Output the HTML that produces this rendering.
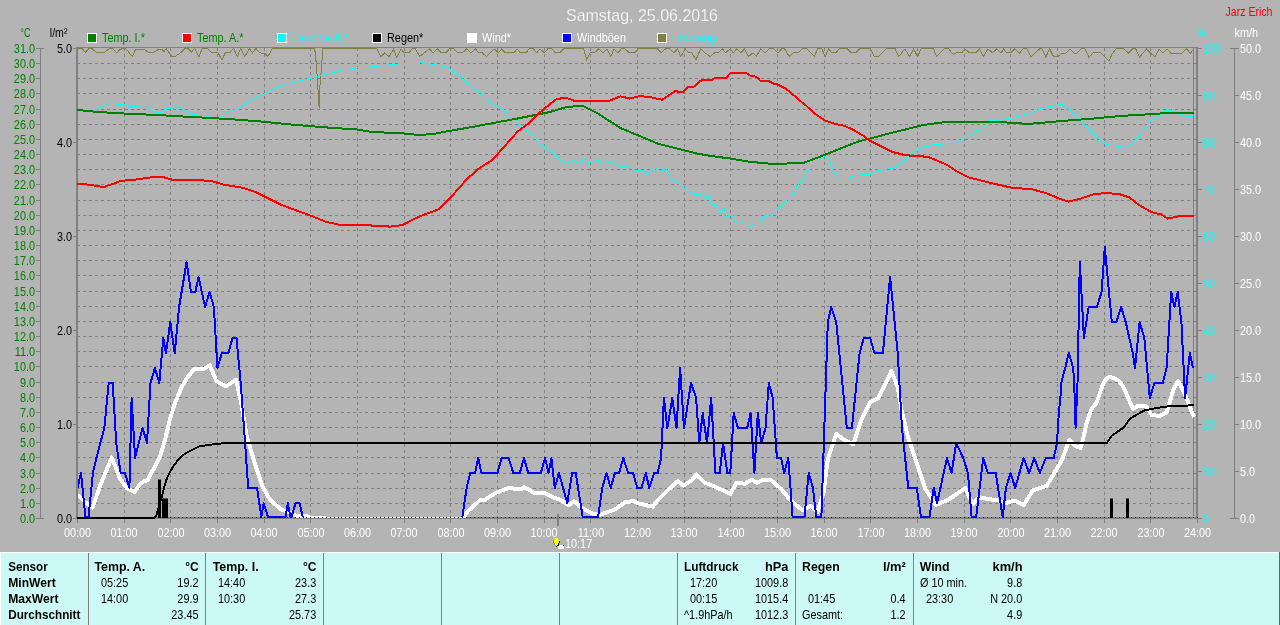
<!DOCTYPE html>
<html><head><meta charset="utf-8"><title>Samstag, 25.06.2016</title>
<style>
html,body{margin:0;padding:0;background:#b4b4b4;width:1280px;height:625px;overflow:hidden}
svg{display:block}
text{font-family:"Liberation Sans", Arial, sans-serif}
</style></head><body>
<svg width="1280" height="625" viewBox="0 0 1280 625">
<defs><clipPath id="pc"><rect x="78" y="48" width="1118" height="470"/></clipPath></defs>
<rect x="0" y="0" width="1280" height="625" fill="#b4b4b4"/>

<text x="566" y="21" font-size="17" textLength="152" lengthAdjust="spacingAndGlyphs" fill="#ffffff" stroke="#b4b4b4" stroke-width="0.25">Samstag, 25.06.2016</text>
<text x="1225.5" y="16" font-size="12" textLength="47" lengthAdjust="spacingAndGlyphs" fill="#ff0000">Jarz Erich</text>
<rect x="87" y="33" width="10" height="10" fill="#ffffff"/><rect x="88" y="34" width="8" height="8" fill="#008000"/>
<text transform="translate(102,42) scale(0.87,1)" font-size="12.5" fill="#008000">Temp. I.*</text>
<rect x="182" y="33" width="10" height="10" fill="#ffffff"/><rect x="183" y="34" width="8" height="8" fill="#ff0000"/>
<text transform="translate(197,42) scale(0.87,1)" font-size="12.5" fill="#008000">Temp. A.*</text>
<rect x="277" y="33" width="10" height="10" fill="#ffffff"/><rect x="278" y="34" width="8" height="8" fill="#00ffff"/>
<text transform="translate(292,42) scale(0.87,1)" font-size="12.5" fill="#00ffff">Feuchte A.*</text>
<rect x="372" y="33" width="10" height="10" fill="#ffffff"/><rect x="373" y="34" width="8" height="8" fill="#000000"/>
<text transform="translate(387,42) scale(0.87,1)" font-size="12.5" fill="#000000">Regen*</text>
<rect x="467" y="33" width="10" height="10" fill="#ffffff"/><rect x="468" y="34" width="8" height="8" fill="#ffffff"/>
<text transform="translate(482,42) scale(0.87,1)" font-size="12.5" fill="#ffffff">Wind*</text>
<rect x="562" y="33" width="10" height="10" fill="#ffffff"/><rect x="563" y="34" width="8" height="8" fill="#0000ff"/>
<text transform="translate(577,42) scale(0.87,1)" font-size="12.5" fill="#ffffff">Windböen</text>
<rect x="657" y="33" width="10" height="10" fill="#ffffff"/><rect x="658" y="34" width="8" height="8" fill="#808040"/>
<text transform="translate(672,42) scale(0.87,1)" font-size="12.5" fill="#00ffff">Empfang</text>
<text x="20.3" y="37" font-size="12.5" textLength="10.3" lengthAdjust="spacingAndGlyphs" fill="#008000">°C</text>
<text x="49.8" y="37" font-size="12.5" textLength="17.6" lengthAdjust="spacingAndGlyphs" fill="#000000">l/m²</text>
<text x="1197.3" y="37" font-size="12.5" textLength="8" lengthAdjust="spacingAndGlyphs" fill="#00ffff">%</text>
<text transform="translate(1234.5,37) scale(0.87,1)" font-size="12.5" fill="#ffffff">km/h</text>
<path d="M77,63.5H1196 M77,78.5H1196 M77,93.5H1196 M77,109.5H1196 M77,124.5H1196 M77,139.5H1196 M77,154.5H1196 M77,169.5H1196 M77,184.5H1196 M77,200.5H1196 M77,215.5H1196 M77,230.5H1196 M77,245.5H1196 M77,260.5H1196 M77,275.5H1196 M77,291.5H1196 M77,306.5H1196 M77,321.5H1196 M77,336.5H1196 M77,351.5H1196 M77,366.5H1196 M77,382.5H1196 M77,397.5H1196 M77,412.5H1196 M77,427.5H1196 M77,442.5H1196 M77,457.5H1196 M77,473.5H1196 M77,488.5H1196 M77,503.5H1196 M124.5,48V517 M170.5,48V517 M217.5,48V517 M264.5,48V517 M310.5,48V517 M357.5,48V517 M404.5,48V517 M450.5,48V517 M497.5,48V517 M544.5,48V517 M590.5,48V517 M637.5,48V517 M684.5,48V517 M730.5,48V517 M777.5,48V517 M824.5,48V517 M870.5,48V517 M917.5,48V517 M964.5,48V517 M1010.5,48V517 M1057.5,48V517 M1104.5,48V517 M1150.5,48V517" stroke="#808080" stroke-width="1" stroke-dasharray="3 3" fill="none" shape-rendering="crispEdges"/>
<path d="M40.5,48V518 M40,48.5H44 M40,518.5H44 M36,48.5H40 M36,63.5H40 M36,78.5H40 M36,93.5H40 M36,109.5H40 M36,124.5H40 M36,139.5H40 M36,154.5H40 M36,169.5H40 M36,184.5H40 M36,200.5H40 M36,215.5H40 M36,230.5H40 M36,245.5H40 M36,260.5H40 M36,275.5H40 M36,291.5H40 M36,306.5H40 M36,321.5H40 M36,336.5H40 M36,351.5H40 M36,366.5H40 M36,382.5H40 M36,397.5H40 M36,412.5H40 M36,427.5H40 M36,442.5H40 M36,457.5H40 M36,473.5H40 M36,488.5H40 M36,503.5H40 M36,518.5H40" stroke="#808080" stroke-width="1" fill="none" shape-rendering="crispEdges"/>
<text transform="translate(35,53) scale(0.87,1)" text-anchor="end" font-size="12.5" fill="#008000">31.0</text>
<text transform="translate(35,68) scale(0.87,1)" text-anchor="end" font-size="12.5" fill="#008000">30.0</text>
<text transform="translate(35,83) scale(0.87,1)" text-anchor="end" font-size="12.5" fill="#008000">29.0</text>
<text transform="translate(35,98) scale(0.87,1)" text-anchor="end" font-size="12.5" fill="#008000">28.0</text>
<text transform="translate(35,114) scale(0.87,1)" text-anchor="end" font-size="12.5" fill="#008000">27.0</text>
<text transform="translate(35,129) scale(0.87,1)" text-anchor="end" font-size="12.5" fill="#008000">26.0</text>
<text transform="translate(35,144) scale(0.87,1)" text-anchor="end" font-size="12.5" fill="#008000">25.0</text>
<text transform="translate(35,159) scale(0.87,1)" text-anchor="end" font-size="12.5" fill="#008000">24.0</text>
<text transform="translate(35,174) scale(0.87,1)" text-anchor="end" font-size="12.5" fill="#008000">23.0</text>
<text transform="translate(35,189) scale(0.87,1)" text-anchor="end" font-size="12.5" fill="#008000">22.0</text>
<text transform="translate(35,205) scale(0.87,1)" text-anchor="end" font-size="12.5" fill="#008000">21.0</text>
<text transform="translate(35,220) scale(0.87,1)" text-anchor="end" font-size="12.5" fill="#008000">20.0</text>
<text transform="translate(35,235) scale(0.87,1)" text-anchor="end" font-size="12.5" fill="#008000">19.0</text>
<text transform="translate(35,250) scale(0.87,1)" text-anchor="end" font-size="12.5" fill="#008000">18.0</text>
<text transform="translate(35,265) scale(0.87,1)" text-anchor="end" font-size="12.5" fill="#008000">17.0</text>
<text transform="translate(35,280) scale(0.87,1)" text-anchor="end" font-size="12.5" fill="#008000">16.0</text>
<text transform="translate(35,296) scale(0.87,1)" text-anchor="end" font-size="12.5" fill="#008000">15.0</text>
<text transform="translate(35,311) scale(0.87,1)" text-anchor="end" font-size="12.5" fill="#008000">14.0</text>
<text transform="translate(35,326) scale(0.87,1)" text-anchor="end" font-size="12.5" fill="#008000">13.0</text>
<text transform="translate(35,341) scale(0.87,1)" text-anchor="end" font-size="12.5" fill="#008000">12.0</text>
<text transform="translate(35,356) scale(0.87,1)" text-anchor="end" font-size="12.5" fill="#008000">11.0</text>
<text transform="translate(35,371) scale(0.87,1)" text-anchor="end" font-size="12.5" fill="#008000">10.0</text>
<text transform="translate(35,387) scale(0.87,1)" text-anchor="end" font-size="12.5" fill="#008000">9.0</text>
<text transform="translate(35,402) scale(0.87,1)" text-anchor="end" font-size="12.5" fill="#008000">8.0</text>
<text transform="translate(35,417) scale(0.87,1)" text-anchor="end" font-size="12.5" fill="#008000">7.0</text>
<text transform="translate(35,432) scale(0.87,1)" text-anchor="end" font-size="12.5" fill="#008000">6.0</text>
<text transform="translate(35,447) scale(0.87,1)" text-anchor="end" font-size="12.5" fill="#008000">5.0</text>
<text transform="translate(35,462) scale(0.87,1)" text-anchor="end" font-size="12.5" fill="#008000">4.0</text>
<text transform="translate(35,478) scale(0.87,1)" text-anchor="end" font-size="12.5" fill="#008000">3.0</text>
<text transform="translate(35,493) scale(0.87,1)" text-anchor="end" font-size="12.5" fill="#008000">2.0</text>
<text transform="translate(35,508) scale(0.87,1)" text-anchor="end" font-size="12.5" fill="#008000">1.0</text>
<text transform="translate(35,523) scale(0.87,1)" text-anchor="end" font-size="12.5" fill="#008000">0.0</text>
<text transform="translate(72,53) scale(0.87,1)" text-anchor="end" font-size="12.5" fill="#000000">5.0</text>
<text transform="translate(72,147) scale(0.87,1)" text-anchor="end" font-size="12.5" fill="#000000">4.0</text>
<text transform="translate(72,241) scale(0.87,1)" text-anchor="end" font-size="12.5" fill="#000000">3.0</text>
<text transform="translate(72,335) scale(0.87,1)" text-anchor="end" font-size="12.5" fill="#000000">2.0</text>
<text transform="translate(72,429) scale(0.87,1)" text-anchor="end" font-size="12.5" fill="#000000">1.0</text>
<text transform="translate(72,523) scale(0.87,1)" text-anchor="end" font-size="12.5" fill="#000000">0.0</text>
<path d="M73,48.5H76 M73,142.5H76 M73,236.5H76 M73,330.5H76 M73,424.5H76 M73,518.5H76" stroke="#808080" stroke-width="1" fill="none" shape-rendering="crispEdges"/>
<text transform="translate(1203,53) scale(0.87,1)" font-size="12.5" fill="#00ffff">100</text>
<text transform="translate(1240,53) scale(0.87,1)" font-size="12.5" fill="#ffffff">50.0</text>
<text transform="translate(1203,100) scale(0.87,1)" font-size="12.5" fill="#00ffff">90</text>
<text transform="translate(1240,100) scale(0.87,1)" font-size="12.5" fill="#ffffff">45.0</text>
<text transform="translate(1203,147) scale(0.87,1)" font-size="12.5" fill="#00ffff">80</text>
<text transform="translate(1240,147) scale(0.87,1)" font-size="12.5" fill="#ffffff">40.0</text>
<text transform="translate(1203,194) scale(0.87,1)" font-size="12.5" fill="#00ffff">70</text>
<text transform="translate(1240,194) scale(0.87,1)" font-size="12.5" fill="#ffffff">35.0</text>
<text transform="translate(1203,241) scale(0.87,1)" font-size="12.5" fill="#00ffff">60</text>
<text transform="translate(1240,241) scale(0.87,1)" font-size="12.5" fill="#ffffff">30.0</text>
<text transform="translate(1203,288) scale(0.87,1)" font-size="12.5" fill="#00ffff">50</text>
<text transform="translate(1240,288) scale(0.87,1)" font-size="12.5" fill="#ffffff">25.0</text>
<text transform="translate(1203,335) scale(0.87,1)" font-size="12.5" fill="#00ffff">40</text>
<text transform="translate(1240,335) scale(0.87,1)" font-size="12.5" fill="#ffffff">20.0</text>
<text transform="translate(1203,382) scale(0.87,1)" font-size="12.5" fill="#00ffff">30</text>
<text transform="translate(1240,382) scale(0.87,1)" font-size="12.5" fill="#ffffff">15.0</text>
<text transform="translate(1203,429) scale(0.87,1)" font-size="12.5" fill="#00ffff">20</text>
<text transform="translate(1240,429) scale(0.87,1)" font-size="12.5" fill="#ffffff">10.0</text>
<text transform="translate(1203,476) scale(0.87,1)" font-size="12.5" fill="#00ffff">10</text>
<text transform="translate(1240,476) scale(0.87,1)" font-size="12.5" fill="#ffffff">5.0</text>
<text transform="translate(1203,523) scale(0.87,1)" font-size="12.5" fill="#00ffff">0</text>
<text transform="translate(1240,523) scale(0.87,1)" font-size="12.5" fill="#ffffff">0.0</text>
<path d="M1234.5,48V518 M1230,48.5H1235 M1230,518.5H1235 M1193.5,48V518 M1198,48.5H1202 M1235,48.5H1239 M1198,95.5H1202 M1235,95.5H1239 M1198,142.5H1202 M1235,142.5H1239 M1198,189.5H1202 M1235,189.5H1239 M1198,236.5H1202 M1235,236.5H1239 M1198,283.5H1202 M1235,283.5H1239 M1198,330.5H1202 M1235,330.5H1239 M1198,377.5H1202 M1235,377.5H1239 M1198,424.5H1202 M1235,424.5H1239 M1198,471.5H1202 M1235,471.5H1239 M1198,518.5H1202 M1235,518.5H1239" stroke="#808080" stroke-width="1" fill="none" shape-rendering="crispEdges"/>
<rect x="76" y="47" width="1122" height="1" fill="#808080"/>
<rect x="76" y="47" width="2" height="472" fill="#808080"/>
<rect x="1196" y="47" width="2" height="472" fill="#808080"/>
<rect x="76" y="517" width="1122" height="2" fill="#808080"/>
<text transform="translate(77.5,537) scale(0.87,1)" text-anchor="middle" font-size="12.5" fill="#ffffff">00:00</text>
<text transform="translate(124.0,537) scale(0.87,1)" text-anchor="middle" font-size="12.5" fill="#ffffff">01:00</text>
<text transform="translate(171.0,537) scale(0.87,1)" text-anchor="middle" font-size="12.5" fill="#ffffff">02:00</text>
<text transform="translate(217.5,537) scale(0.87,1)" text-anchor="middle" font-size="12.5" fill="#ffffff">03:00</text>
<text transform="translate(264.0,537) scale(0.87,1)" text-anchor="middle" font-size="12.5" fill="#ffffff">04:00</text>
<text transform="translate(311.0,537) scale(0.87,1)" text-anchor="middle" font-size="12.5" fill="#ffffff">05:00</text>
<text transform="translate(357.5,537) scale(0.87,1)" text-anchor="middle" font-size="12.5" fill="#ffffff">06:00</text>
<text transform="translate(404.0,537) scale(0.87,1)" text-anchor="middle" font-size="12.5" fill="#ffffff">07:00</text>
<text transform="translate(451.0,537) scale(0.87,1)" text-anchor="middle" font-size="12.5" fill="#ffffff">08:00</text>
<text transform="translate(497.5,537) scale(0.87,1)" text-anchor="middle" font-size="12.5" fill="#ffffff">09:00</text>
<text transform="translate(544.0,537) scale(0.87,1)" text-anchor="middle" font-size="12.5" fill="#ffffff">10:00</text>
<text transform="translate(591.0,537) scale(0.87,1)" text-anchor="middle" font-size="12.5" fill="#ffffff">11:00</text>
<text transform="translate(637.5,537) scale(0.87,1)" text-anchor="middle" font-size="12.5" fill="#ffffff">12:00</text>
<text transform="translate(684.0,537) scale(0.87,1)" text-anchor="middle" font-size="12.5" fill="#ffffff">13:00</text>
<text transform="translate(731.0,537) scale(0.87,1)" text-anchor="middle" font-size="12.5" fill="#ffffff">14:00</text>
<text transform="translate(777.5,537) scale(0.87,1)" text-anchor="middle" font-size="12.5" fill="#ffffff">15:00</text>
<text transform="translate(824.0,537) scale(0.87,1)" text-anchor="middle" font-size="12.5" fill="#ffffff">16:00</text>
<text transform="translate(871.0,537) scale(0.87,1)" text-anchor="middle" font-size="12.5" fill="#ffffff">17:00</text>
<text transform="translate(917.5,537) scale(0.87,1)" text-anchor="middle" font-size="12.5" fill="#ffffff">18:00</text>
<text transform="translate(964.0,537) scale(0.87,1)" text-anchor="middle" font-size="12.5" fill="#ffffff">19:00</text>
<text transform="translate(1011.0,537) scale(0.87,1)" text-anchor="middle" font-size="12.5" fill="#ffffff">20:00</text>
<text transform="translate(1057.5,537) scale(0.87,1)" text-anchor="middle" font-size="12.5" fill="#ffffff">21:00</text>
<text transform="translate(1104.0,537) scale(0.87,1)" text-anchor="middle" font-size="12.5" fill="#ffffff">22:00</text>
<text transform="translate(1151.0,537) scale(0.87,1)" text-anchor="middle" font-size="12.5" fill="#ffffff">23:00</text>
<text transform="translate(1197.5,537) scale(0.87,1)" text-anchor="middle" font-size="12.5" fill="#ffffff">24:00</text>
<path d="M77.5,518V523 M124.5,518V523 M170.5,518V523 M217.5,518V523 M264.5,518V523 M310.5,518V523 M357.5,518V523 M404.5,518V523 M450.5,518V523 M497.5,518V523 M544.5,518V523 M590.5,518V523 M637.5,518V523 M684.5,518V523 M730.5,518V523 M777.5,518V523 M824.5,518V523 M870.5,518V523 M917.5,518V523 M964.5,518V523 M1010.5,518V523 M1057.5,518V523 M1104.5,518V523 M1150.5,518V523 M1197.5,518V523" stroke="#808080" stroke-width="1" fill="none" shape-rendering="crispEdges"/>
<polyline points="77.5,48.5 82.0,48.5 85.3,52.2 89.2,48.5 91.8,48.5 96.2,52.2 104.9,52.2 109.3,48.5 112.6,48.5 117.0,52.8 120.3,49.3 123.5,48.5 125.7,48.5 132.3,56.5 135.5,49.3 144.3,49.3 148.7,52.8 153.1,52.8 158.5,49.3 161.8,49.3 164.0,51.5 166.2,48.5 171.7,56.5 174.9,56.5 181.5,52.2 184.8,48.5 188.1,48.5 191.4,52.2 194.6,48.5 199.0,56.5 202.3,48.5 207.8,48.5 211.0,52.2 217.6,52.2 222.0,59.8 225.3,52.8 229.6,52.8 233.6,48.5 237.3,56.5 240.6,48.5 244.9,56.5 249.3,48.5 252.6,52.8 255.9,48.5 259.2,52.2 262.0,53.7 265.1,53.3 267.9,56.5 272.3,48.5 314.6,48.5 315.7,56.5 316.8,70.5 317.7,85.5 318.8,100.5 319.1,108.0 319.5,98.5 320.0,85.5 321.2,70.5 322.3,56.5 323.0,48.5 376.6,48.5 381.0,56.5 384.7,52.8 389.1,56.5 393.5,49.3 396.8,57.6 401.1,49.3 404.4,52.8 408.8,52.8 412.1,48.9 415.4,48.9 419.7,56.5 425.2,52.2 429.6,48.9 432.9,52.8 437.2,48.9 441.6,52.8 446.0,52.8 449.3,48.9 453.6,48.9 458.0,52.8 462.4,52.8 466.8,48.9 471.1,52.8 475.5,48.9 478.8,52.8 482.1,52.8 486.5,56.5 490.8,52.2 494.1,48.9 498.5,52.8 501.8,48.9 505.0,52.8 513.8,52.8 517.1,48.9 520.4,52.8 525.8,52.8 529.1,48.9 533.5,48.9 536.8,52.8 540.0,48.9 544.4,52.8 547.7,48.9 552.1,48.9 555.4,52.8 559.7,52.8 564.1,48.5 583.5,48.5 586.8,59.8 590.0,52.8 594.4,52.8 598.8,48.9 603.2,52.8 606.9,48.9 610.8,56.5 614.1,48.9 617.8,52.8 621.3,48.9 625.0,48.9 629.4,52.8 634.9,52.8 638.2,48.5 656.8,48.5 661.1,52.8 665.5,48.9 669.9,48.9 673.8,52.8 677.5,48.9 680.8,56.5 685.2,48.9 688.5,52.8 691.8,52.8 696.1,59.8 700.5,48.9 704.9,52.8 710.4,56.5 714.7,52.8 718.0,52.8 722.4,48.9 725.7,52.8 730.0,48.9 733.3,52.8 736.6,48.9 741.0,52.8 744.3,48.9 748.6,56.5 753.0,52.8 756.3,56.5 760.7,48.9 765.0,52.8 769.4,48.9 773.8,48.9 778.2,52.8 781.5,48.9 784.7,48.9 789.1,56.5 793.5,52.8 797.9,52.8 802.2,48.9 806.6,48.9 811.0,52.8 814.3,56.5 817.6,48.9 821.9,48.9 825.2,56.5 828.5,48.9 831.8,52.8 836.2,52.8 839.3,48.5 846.9,48.5 851.3,52.8 855.7,52.8 860.0,48.5 869.9,48.5 874.3,56.5 878.6,56.5 886.3,48.5 895.0,48.5 898.8,56.5 904.9,48.9 909.7,56.5 913.6,48.9 917.6,56.5 921.3,48.5 933.3,48.5 936.6,56.5 944.3,48.5 948.6,48.5 953.0,54.3 956.3,52.8 961.8,52.8 965.0,48.9 969.4,52.8 976.0,52.8 979.3,48.9 983.6,56.5 988.0,48.9 992.4,52.8 996.8,48.9 1001.1,52.8 1003.6,49.2 1006.8,52.6 1010.7,52.6 1014.6,48.9 1019.3,53.1 1023.2,48.9 1027.1,48.9 1031.0,57.0 1039.5,48.9 1041.9,48.9 1045.8,57.0 1049.7,48.9 1053.6,56.7 1057.5,56.7 1062.2,53.1 1066.1,53.1 1070.0,48.9 1073.9,53.1 1077.1,53.1 1081.0,48.9 1084.9,48.9 1088.8,57.0 1093.5,52.6 1100.5,52.6 1109.1,60.9 1112.2,53.9 1116.1,48.9 1123.9,48.9 1128.6,53.1 1132.5,48.9 1135.7,48.9 1139.6,57.0 1146.6,48.9 1150.5,53.1 1155.2,57.0 1159.1,48.9 1163.0,53.1 1166.9,48.9 1170.8,53.1 1181.8,53.1 1186.4,48.9 1190.3,53.1 1194.3,48.9" fill="none" stroke="#808040" stroke-width="1" shape-rendering="crispEdges"/>
<g shape-rendering="crispEdges" fill="none" stroke-linejoin="round">
<polyline points="77.5,109.7 95.2,109.7 101.5,106.8 107.1,104.3 110.9,103.4 114.0,103.4 116.5,104.3 123.4,104.3 129.0,106.4 131.5,107.4 134.0,106.4 137.8,106.4 139.0,107.4 145.9,107.4 151.5,109.9 155.2,112.2 160.2,112.2 162.8,111.2 166.5,108.4 171.5,108.4 174.0,107.4 178.4,106.8 182.8,109.3 189.0,112.4 194.0,114.9 205.2,115.2 210.5,118.2 218.0,118.2 226.5,112.4 236.5,109.3 246.5,102.9 262.5,94.9 278.5,86.9 294.5,82.1 310.5,78.3 326.5,74.1 342.5,69.9 358.5,67.7 374.5,66.7 390.5,64.5 406.5,63.5 422.5,62.9 438.5,65.5 448.1,67.7 460.9,77.3 473.7,88.5 484.7,95.5 490.1,101.9 497.8,107.0 504.2,110.2 509.9,117.9 513.8,116.9 521.5,128.1 534.2,135.2 540.9,144.5 550.5,150.9 560.1,160.5 566.5,163.7 572.9,160.5 579.3,163.7 584.1,157.9 587.3,162.7 598.5,160.5 601.7,163.7 611.3,161.5 620.9,166.9 627.3,165.3 633.7,170.1 643.3,170.1 646.5,174.3 656.1,168.5 660.9,170.7 665.7,168.5 670.5,178.1 681.7,186.1 690.5,192.9 692.7,194.0 696.1,194.6 699.5,193.8 703.9,199.1 707.9,196.0 711.8,204.7 715.7,205.0 720.2,213.6 724.1,208.0 726.9,218.1 730.8,213.1 735.3,221.5 739.2,224.0 742.0,222.6 747.1,228.2 751.0,225.9 754.9,221.1 758.8,222.0 766.1,214.7 770.0,216.6 775.0,213.6 780.1,206.9 784.6,202.4 789.0,196.8 794.1,193.5 797.4,185.6 802.5,180.6 808.1,170.5 809.7,168.5 819.3,158.9 824.1,155.7 828.9,158.9 833.7,171.7 840.1,179.7 846.5,179.7 851.3,176.5 860.9,174.9 870.5,174.9 880.1,170.1 894.5,167.9 902.5,162.1 910.5,154.1 921.7,147.7 934.5,144.5 953.7,143.5 966.5,137.1 976.1,131.1 982.5,128.5 988.9,120.5 998.5,120.5 1011.3,117.9 1024.1,114.7 1030.5,113.5 1043.3,107.7 1052.9,106.1 1060.9,103.9 1068.9,109.3 1078.5,118.9 1088.1,128.5 1097.7,138.1 1107.3,144.5 1116.9,146.1 1123.3,147.7 1132.9,142.9 1142.5,131.5 1150.9,120.5 1159.5,115.5 1163.9,111.1 1170.4,110.0 1178.3,113.3 1184.1,115.5 1189.8,116.9 1194.5,115.5" stroke="#00ffff" stroke-width="1"/>
<polyline points="77.0,110.0 79.0,110.0 87.0,111.0 99.5,112.0 114.0,113.0 133.0,114.0 158.5,115.0 174.0,116.0 191.5,117.0 211.5,118.0 227.0,119.0 236.0,119.6 262.0,121.6 294.0,124.8 326.0,127.4 358.0,129.6 370.8,131.8 390.0,132.8 402.8,133.4 415.6,134.7 431.6,134.4 447.6,131.2 470.0,127.4 492.4,123.2 518.0,118.4 537.2,114.6 550.0,112.0 566.0,107.2 582.0,105.6 598.0,113.6 620.4,128.0 639.6,136.0 658.8,144.0 678.0,148.8 697.2,153.6 710.0,155.8 729.2,158.4 748.4,161.6 767.6,163.5 786.8,163.5 802.8,163.2 815.6,158.4 831.6,152.0 847.6,145.6 860.4,140.8 870.0,138.6 889.2,133.4 905.2,129.6 921.2,125.4 940.4,122.6 959.6,121.6 978.8,122.2 998.0,121.6 1014.0,123.2 1030.0,123.8 1062.0,121.0 1094.0,118.5 1120.0,116.0 1140.0,114.8 1160.0,113.5 1194.0,112.8" stroke="#008000" stroke-width="2"/>
<polyline points="77.0,184.0 89.2,184.6 103.6,187.2 121.2,180.8 134.0,179.8 153.2,177.0 162.8,177.0 172.4,179.8 188.4,179.8 210.8,180.8 223.6,184.6 230.0,185.6 242.8,187.8 255.6,192.0 268.4,198.4 281.2,204.8 294.0,209.6 310.0,215.4 326.0,221.8 338.8,224.6 358.0,225.0 374.0,225.6 390.0,226.6 402.8,225.0 412.4,219.8 422.0,215.4 438.0,209.6 454.0,193.6 466.8,179.2 479.6,168.0 492.4,160.0 505.2,145.6 518.0,131.2 530.8,121.6 540.4,112.0 550.0,104.0 556.4,99.2 566.0,97.6 575.6,101.4 588.4,100.8 607.6,101.4 620.4,96.3 630.0,98.6 639.6,96.0 652.4,97.6 662.0,99.8 674.8,91.2 680.0,91.8 683.8,91.6 687.5,86.9 693.6,86.9 700.6,80.8 704.4,79.7 712.3,79.7 714.7,78.0 725.9,78.0 730.6,72.8 746.1,72.8 750.3,75.6 754.1,76.1 757.8,78.0 760.6,81.1 768.6,81.1 773.7,83.6 777.5,84.5 785.0,88.3 788.7,91.1 794.4,95.8 799.0,100.0 806.0,105.6 815.6,114.2 825.2,120.6 834.8,123.8 844.4,125.8 854.0,130.2 863.6,136.0 870.0,140.8 879.6,145.6 892.4,152.0 905.2,155.2 927.6,156.8 937.2,160.6 946.8,164.8 956.4,171.2 969.2,177.6 982.0,180.8 998.0,184.6 1014.0,188.2 1030.0,188.8 1046.0,193.0 1058.8,198.4 1068.4,201.6 1078.0,199.4 1094.0,194.2 1106.8,193.0 1119.6,194.2 1129.2,197.4 1138.8,204.8 1151.6,212.2 1161.2,214.4 1167.6,218.6 1180.4,216.0 1194.0,216.0" stroke="#ff0000" stroke-width="2"/>
</g>
<g shape-rendering="crispEdges" fill="none" stroke-linejoin="round" clip-path="url(#pc)">
<polyline points="77.5,494.6 85.0,502.0 92.4,507.5 100.8,484.0 111.8,457.5 120.1,478.8 126.7,488.0 134.6,492.0 140.0,484.0 143.9,481.4 147.8,480.0 153.0,470.0 159.7,457.6 165.0,440.0 170.3,418.0 175.0,403.0 180.8,389.0 187.0,378.0 194.0,369.2 203.2,369.2 209.8,365.3 216.4,381.1 225.7,386.4 236.2,379.8 241.5,404.9 246.8,436.6 254.7,463.0 262.6,486.6 270.0,499.8 281.2,509.6 290.0,512.5 295.0,515.5 308.0,516.5 310.0,518.0 325.0,518.0 326.0,519.0 462.4,519.0 468.0,511.0 480.6,499.7 484.8,499.7 496.0,492.7 508.6,488.0 521.2,489.4 524.0,487.1 535.2,493.3 545.0,493.3 552.0,497.0 560.3,499.7 568.7,505.3 574.3,501.1 581.3,508.1 592.5,513.7 599.5,515.1 610.7,510.9 614.9,509.5 624.7,502.5 633.1,501.1 638.7,503.4 652.7,506.7 656.9,501.1 666.7,491.3 677.9,481.0 683.5,485.7 691.9,480.1 696.1,474.5 704.8,482.6 715.4,486.8 730.3,494.0 736.6,482.6 745.1,483.8 751.5,479.6 757.0,482.6 762.1,480.4 770.5,479.6 781.1,488.9 791.7,501.6 802.3,510.1 810.8,505.9 817.2,512.2 823.5,493.2 827.8,459.2 836.2,433.8 844.7,440.2 853.2,444.4 861.7,419.0 870.2,402.0 878.6,397.8 885.0,385.0 891.4,371.1 897.7,387.2 902.0,412.6 908.3,438.0 916.8,463.5 925.3,488.9 935.9,505.0 948.6,499.5 958.6,492.7 965.3,488.0 972.5,504.3 979.5,497.3 986.4,498.7 998.0,500.5 1005.0,503.3 1014.3,500.5 1023.6,505.2 1032.9,490.3 1046.8,485.7 1062.0,460.0 1069.2,440.0 1075.6,446.4 1080.4,448.0 1082.8,440.0 1086.8,422.4 1091.6,408.8 1096.4,403.2 1101.2,388.8 1105.2,380.0 1109.2,376.8 1114.0,378.4 1118.8,380.8 1123.6,387.2 1128.4,398.4 1133.0,409.0 1138.7,405.5 1145.7,405.5 1151.5,414.8 1159.6,416.0 1166.6,412.5 1173.5,389.3 1178.0,381.0 1185.0,394.0 1192.0,412.5 1194.4,417.0" stroke="#ffffff" stroke-width="4"/>
<polyline points="77.5,488.0 81.0,473.0 85.4,517.0 88.5,517.0 92.9,473.0 96.4,458.0 104.3,428.0 108.7,383.0 112.7,383.0 116.2,443.0 120.6,473.0 125.0,473.0 129.4,488.0 131.6,398.0 135.1,458.0 142.6,428.0 147.0,443.0 150.5,383.0 154.9,368.0 159.3,383.0 163.3,338.0 165.9,353.0 170.3,322.0 174.7,353.0 179.1,307.0 186.6,262.0 191.0,292.0 195.4,292.0 198.5,277.0 205.1,307.0 209.5,292.0 213.9,307.0 217.4,368.0 221.8,353.0 228.4,353.0 232.5,338.0 236.5,338.0 240.7,383.0 245.1,443.0 248.2,488.0 257.0,488.0 261.4,517.0 263.6,503.0 268.0,517.0 285.6,517.0 287.8,503.0 290.5,517.0 291.5,517.0 295.5,503.0 299.5,503.0 302.8,517.0" stroke="#0000ff" stroke-width="2"/>
<polyline points="462.4,517.0 466.6,488.0 470.2,473.0 475.0,473.0 478.3,458.0 481.4,473.0 497.4,473.0 501.6,458.0 508.6,458.0 513.3,473.0 519.8,473.0 524.0,458.0 528.2,473.0 540.8,473.0 545.0,458.0 548.6,473.0 551.4,458.0 554.8,488.0 558.9,473.0 567.3,503.0 572.1,473.0 575.7,473.0 582.7,517.0 598.1,517.0 602.3,488.0 606.5,473.0 610.7,488.0 614.9,473.0 619.1,473.0 623.3,458.0 628.1,473.0 633.1,473.0 637.3,488.0 641.5,488.0 645.7,473.0 649.3,488.0 654.1,473.0 657.7,473.0 661.1,458.0 662.5,428.0 663.9,398.0 667.3,428.0 672.3,398.0 676.5,428.0 680.1,368.0 684.0,428.0 691.0,383.0 696.1,398.0 699.3,443.0 702.7,413.0 707.0,443.0 711.2,398.0 715.4,473.0 719.7,473.0 723.1,443.0 727.3,473.0 730.3,473.0 733.7,413.0 737.9,428.0 747.2,428.0 750.6,413.0 754.4,473.0 757.8,413.0 761.2,443.0 765.5,428.0 768.8,383.0 772.7,398.0 776.9,458.0 781.1,458.0 784.1,473.0 788.3,458.0 792.6,517.0 804.5,517.0 808.7,473.0 812.9,488.0 816.3,517.0 821.4,517.0 827.8,322.0 831.2,307.0 836.2,322.0 846.8,428.0 851.9,428.0 859.6,353.0 863.8,338.0 870.2,338.0 874.4,353.0 882.9,353.0 890.1,277.0 897.7,353.0 902.0,428.0 908.3,488.0 916.8,488.0 921.0,517.0 929.5,517.0 933.7,488.0 937.1,503.0 947.0,458.0 951.6,473.0 956.2,443.0 963.2,458.0 967.9,473.0 971.6,517.0 976.2,517.0 983.2,458.0 987.8,473.0 995.7,473.0 1002.7,517.0 1005.9,488.0 1010.6,473.0 1015.2,488.0 1023.6,458.0 1029.1,473.0 1034.2,458.0 1039.8,473.0 1045.8,458.0 1053.7,458.0 1057.0,443.0 1058.8,413.0 1060.4,398.0 1061.2,383.0 1065.2,368.0 1068.8,353.0 1073.2,368.0 1074.2,383.0 1075.6,428.0 1077.5,383.0 1079.8,262.0 1083.9,338.0 1088.6,307.0 1096.9,307.0 1101.6,292.0 1104.8,247.0 1111.8,322.0 1116.4,322.0 1121.1,307.0 1125.7,322.0 1132.7,353.0 1135.0,368.0 1139.6,322.0 1144.3,338.0 1149.8,398.0 1154.5,383.0 1162.8,383.0 1166.6,368.0 1171.2,292.0 1174.4,307.0 1177.7,292.0 1181.4,322.0 1185.1,398.0 1189.8,353.0 1193.0,368.0" stroke="#0000ff" stroke-width="2"/>
</g>
<path d="M77,517h1 M81,517h1 M85,517h1 M89,517h1 M93,517h1 M96,517h1 M100,517h1 M104,517h1 M108,517h1 M112,517h1 M116,517h1 M120,517h1 M124,517h1 M128,517h1 M131,517h1 M135,517h1 M139,517h1 M143,517h1 M147,517h1 M151,517h1 M155,517h1 M159,517h1 M163,517h1 M166,517h1 M170,517h1 M174,517h1 M178,517h1 M182,517h1 M186,517h1 M190,517h1 M194,517h1 M198,517h1 M201,517h1 M205,517h1 M209,517h1 M213,517h1 M217,517h1 M221,517h1 M225,517h1 M229,517h1 M233,517h1 M236,517h1 M240,517h1 M244,517h1 M248,517h1 M252,517h1 M256,517h1 M260,517h1 M264,517h1 M268,517h1 M271,517h1 M275,517h1 M279,517h1 M283,517h1 M287,517h1 M291,517h1 M295,517h1 M299,517h1 M303,517h1 M306,517h1 M310,517h1 M314,517h1 M318,517h1 M322,517h1 M326,517h1 M330,517h1 M334,517h1 M338,517h1 M341,517h1 M345,517h1 M349,517h1 M353,517h1 M357,517h1 M361,517h1 M365,517h1 M369,517h1 M373,517h1 M376,517h1 M380,517h1 M384,517h1 M388,517h1 M392,517h1 M396,517h1 M400,517h1 M404,517h1 M408,517h1 M411,517h1 M415,517h1 M419,517h1 M423,517h1 M427,517h1 M431,517h1 M435,517h1 M439,517h1 M443,517h1 M446,517h1 M450,517h1 M454,517h1 M458,517h1 M462,517h1 M466,517h1 M470,517h1 M474,517h1 M478,517h1 M481,517h1 M485,517h1 M489,517h1 M493,517h1 M497,517h1 M501,517h1 M505,517h1 M509,517h1 M513,517h1 M516,517h1 M520,517h1 M524,517h1 M528,517h1 M532,517h1 M536,517h1 M540,517h1 M544,517h1 M548,517h1 M551,517h1 M555,517h1 M559,517h1 M563,517h1 M567,517h1 M571,517h1 M575,517h1 M579,517h1 M583,517h1 M586,517h1 M590,517h1 M594,517h1 M598,517h1 M602,517h1 M606,517h1 M610,517h1 M614,517h1 M618,517h1 M621,517h1 M625,517h1 M629,517h1 M633,517h1 M637,517h1 M641,517h1 M645,517h1 M649,517h1 M653,517h1 M656,517h1 M660,517h1 M664,517h1 M668,517h1 M672,517h1 M676,517h1 M680,517h1 M684,517h1 M688,517h1 M691,517h1 M695,517h1 M699,517h1 M703,517h1 M707,517h1 M711,517h1 M715,517h1 M719,517h1 M723,517h1 M726,517h1 M730,517h1 M734,517h1 M738,517h1 M742,517h1 M746,517h1 M750,517h1 M754,517h1 M758,517h1 M761,517h1 M765,517h1 M769,517h1 M773,517h1 M777,517h1 M781,517h1 M785,517h1 M789,517h1 M793,517h1 M796,517h1 M800,517h1 M804,517h1 M808,517h1 M812,517h1 M816,517h1 M820,517h1 M824,517h1 M828,517h1 M831,517h1 M835,517h1 M839,517h1 M843,517h1 M847,517h1 M851,517h1 M855,517h1 M859,517h1 M863,517h1 M866,517h1 M870,517h1 M874,517h1 M878,517h1 M882,517h1 M886,517h1 M890,517h1 M894,517h1 M898,517h1 M901,517h1 M905,517h1 M909,517h1 M913,517h1 M917,517h1 M921,517h1 M925,517h1 M929,517h1 M933,517h1 M936,517h1 M940,517h1 M944,517h1 M948,517h1 M952,517h1 M956,517h1 M960,517h1 M964,517h1 M968,517h1 M971,517h1 M975,517h1 M979,517h1 M983,517h1 M987,517h1 M991,517h1 M995,517h1 M999,517h1 M1003,517h1 M1006,517h1 M1010,517h1 M1014,517h1 M1018,517h1 M1022,517h1 M1026,517h1 M1030,517h1 M1034,517h1 M1038,517h1 M1041,517h1 M1045,517h1 M1049,517h1 M1053,517h1 M1057,517h1 M1061,517h1 M1065,517h1 M1069,517h1 M1073,517h1 M1076,517h1 M1080,517h1 M1084,517h1 M1088,517h1 M1092,517h1 M1096,517h1 M1100,517h1 M1104,517h1 M1108,517h1 M1111,517h1 M1115,517h1 M1119,517h1 M1123,517h1 M1127,517h1 M1131,517h1 M1135,517h1 M1139,517h1 M1143,517h1 M1146,517h1 M1150,517h1 M1154,517h1 M1158,517h1 M1162,517h1 M1166,517h1 M1170,517h1 M1174,517h1 M1178,517h1 M1181,517h1 M1185,517h1 M1189,517h1 M1193,517h1 M1197,517h1" stroke="#000" stroke-width="1" transform="translate(0,0.5)" shape-rendering="crispEdges"/>
<polyline points="77.0,517.5 155.0,517.5 156.3,515.5 161.8,497.0 164.5,486.3 166.5,479.5 169.3,473.3 172.7,467.2 176.7,461.8 180.8,457.0 186.3,452.9 194.4,448.8 200.0,446.1 219.6,443.6 237.2,442.7 1107.0,442.7 1111.8,435.6 1123.4,427.7 1130.3,418.4 1144.3,410.5 1158.2,407.7 1172.1,405.8 1194.0,405.4" stroke="#000000" stroke-width="2" fill="none" shape-rendering="crispEdges" stroke-linejoin="round"/>
<rect x="158" y="479.5" width="3" height="38.5" fill="#000"/>
<rect x="162" y="498.5" width="6" height="19.5" fill="#000"/>
<rect x="1110" y="498.5" width="3" height="19.5" fill="#000"/>
<rect x="1126" y="498.5" width="3" height="19.5" fill="#000"/>
<rect x="557" y="514" width="2" height="12" fill="#808080"/>
<g shape-rendering="crispEdges">
<polygon points="555,538 558,538 558,540 560,540 560,542 559,543 558,545 557,547 556,547 555,545 554,543 554,540 555,540" fill="#ffff00"/>
<rect x="559" y="541" width="1" height="1" fill="#000"/>
<rect x="559" y="542" width="1" height="1" fill="#000"/>
<rect x="558" y="543" width="1" height="1" fill="#000"/>
<rect x="558" y="544" width="1" height="1" fill="#000"/>
<rect x="557" y="545" width="1" height="1" fill="#000"/>
<rect x="556" y="546" width="1" height="1" fill="#000"/>
<rect x="553" y="541" width="1" height="1" fill="#7878e0"/>
<rect x="553" y="542" width="1" height="1" fill="#7878e0"/>
<rect x="554" y="543" width="1" height="1" fill="#7878e0"/>
<rect x="554" y="544" width="1" height="1" fill="#7878e0"/>
<rect x="555" y="545" width="1" height="1" fill="#9090e0"/>
<rect x="558" y="545" width="1" height="1" fill="#2020c0"/>
<rect x="563" y="545" width="1" height="1" fill="#2020c0"/>
<rect x="559" y="545" width="4" height="1" fill="#ffffff"/><rect x="558" y="546" width="6" height="3" fill="#ffffff"/>
</g>
<text transform="translate(565,548) scale(0.87,1)" font-size="12.5" fill="#ffffff">10:17</text>
<rect x="0" y="552" width="1280" height="73" fill="#ffffff"/>
<rect x="1" y="553" width="1278" height="72" fill="#ccf9f6"/>
<rect x="1279" y="552" width="1" height="73" fill="#646464"/>
<rect x="88" y="553" width="1" height="72" fill="#808080"/>
<rect x="205" y="553" width="1" height="72" fill="#808080"/>
<rect x="323" y="553" width="1" height="72" fill="#808080"/>
<rect x="441" y="553" width="1" height="72" fill="#808080"/>
<rect x="559" y="553" width="1" height="72" fill="#808080"/>
<rect x="677" y="553" width="1" height="72" fill="#808080"/>
<rect x="795" y="553" width="1" height="72" fill="#808080"/>
<rect x="913" y="553" width="1" height="72" fill="#808080"/>
<text x="8.2" y="571" font-weight="bold" font-size="12.5" textLength="39.5" lengthAdjust="spacingAndGlyphs" fill="#000">Sensor</text>
<text x="8.2" y="587" font-weight="bold" font-size="12.5" textLength="47.6" lengthAdjust="spacingAndGlyphs" fill="#000">MinWert</text>
<text x="8.2" y="603" font-weight="bold" font-size="12.5" textLength="50.4" lengthAdjust="spacingAndGlyphs" fill="#000">MaxWert</text>
<text x="8.2" y="619" font-weight="bold" font-size="12.5" textLength="72.2" lengthAdjust="spacingAndGlyphs" fill="#000">Durchschnitt</text>
<text x="94.5" y="571" font-weight="bold" font-size="12.5" textLength="50.7" lengthAdjust="spacingAndGlyphs" fill="#000">Temp. A.</text>
<text x="198.8" y="571" text-anchor="end" font-weight="bold" font-size="12.5" textLength="13.5" lengthAdjust="spacingAndGlyphs" fill="#000">°C</text>
<text transform="translate(101,587) scale(0.87,1)" font-size="12.5" fill="#000">05:25</text>
<text transform="translate(198.5,587) scale(0.87,1)" text-anchor="end" font-size="12.5" fill="#000">19.2</text>
<text transform="translate(101,603) scale(0.87,1)" font-size="12.5" fill="#000">14:00</text>
<text transform="translate(198.5,603) scale(0.87,1)" text-anchor="end" font-size="12.5" fill="#000">29.9</text>
<text transform="translate(198.5,619) scale(0.87,1)" text-anchor="end" font-size="12.5" fill="#000">23.45</text>
<text x="212.70000000000002" y="571" font-weight="bold" font-size="12.5" textLength="45.9" lengthAdjust="spacingAndGlyphs" fill="#000">Temp. I.</text>
<text x="316.5" y="571" text-anchor="end" font-weight="bold" font-size="12.5" textLength="13.5" lengthAdjust="spacingAndGlyphs" fill="#000">°C</text>
<text transform="translate(218,587) scale(0.87,1)" font-size="12.5" fill="#000">14:40</text>
<text transform="translate(316.2,587) scale(0.87,1)" text-anchor="end" font-size="12.5" fill="#000">23.3</text>
<text transform="translate(218,603) scale(0.87,1)" font-size="12.5" fill="#000">10:30</text>
<text transform="translate(316.2,603) scale(0.87,1)" text-anchor="end" font-size="12.5" fill="#000">27.3</text>
<text transform="translate(316.2,619) scale(0.87,1)" text-anchor="end" font-size="12.5" fill="#000">25.73</text>
<text x="684.0" y="571" font-weight="bold" font-size="12.5" textLength="54.5" lengthAdjust="spacingAndGlyphs" fill="#000">Luftdruck</text>
<text x="788.5" y="571" text-anchor="end" font-weight="bold" font-size="12.5" textLength="23.5" lengthAdjust="spacingAndGlyphs" fill="#000">hPa</text>
<text transform="translate(690,587) scale(0.87,1)" font-size="12.5" fill="#000">17:20</text>
<text transform="translate(788.2,587) scale(0.87,1)" text-anchor="end" font-size="12.5" fill="#000">1009.8</text>
<text transform="translate(690,603) scale(0.87,1)" font-size="12.5" fill="#000">00:15</text>
<text transform="translate(788.2,603) scale(0.87,1)" text-anchor="end" font-size="12.5" fill="#000">1015.4</text>
<text transform="translate(684,619) scale(0.87,1)" font-size="12.5" fill="#000">^1.9hPa/h</text>
<text transform="translate(788.2,619) scale(0.87,1)" text-anchor="end" font-size="12.5" fill="#000">1012.3</text>
<text x="802.1" y="571" font-weight="bold" font-size="12.5" textLength="37.6" lengthAdjust="spacingAndGlyphs" fill="#000">Regen</text>
<text x="905.8" y="571" text-anchor="end" font-weight="bold" font-size="12.5" textLength="22.9" lengthAdjust="spacingAndGlyphs" fill="#000">l/m²</text>
<text transform="translate(808,603) scale(0.87,1)" font-size="12.5" fill="#000">01:45</text>
<text transform="translate(905.5,603) scale(0.87,1)" text-anchor="end" font-size="12.5" fill="#000">0.4</text>
<text transform="translate(802,619) scale(0.87,1)" font-size="12.5" fill="#000">Gesamt:</text>
<text transform="translate(905.5,619) scale(0.87,1)" text-anchor="end" font-size="12.5" fill="#000">1.2</text>
<text x="919.6999999999999" y="571" font-weight="bold" font-size="12.5" textLength="29.9" lengthAdjust="spacingAndGlyphs" fill="#000">Wind</text>
<text x="1022.5" y="571" text-anchor="end" font-weight="bold" font-size="12.5" textLength="30" lengthAdjust="spacingAndGlyphs" fill="#000">km/h</text>
<text transform="translate(920,587) scale(0.87,1)" font-size="12.5" fill="#000">Ø 10 min.</text>
<text transform="translate(1022.2,587) scale(0.87,1)" text-anchor="end" font-size="12.5" fill="#000">9.8</text>
<text transform="translate(926,603) scale(0.87,1)" font-size="12.5" fill="#000">23:30</text>
<text transform="translate(1022.2,603) scale(0.87,1)" text-anchor="end" font-size="12.5" fill="#000">N 20.0</text>
<text transform="translate(1022.2,619) scale(0.87,1)" text-anchor="end" font-size="12.5" fill="#000">4.9</text>
</svg></body></html>
